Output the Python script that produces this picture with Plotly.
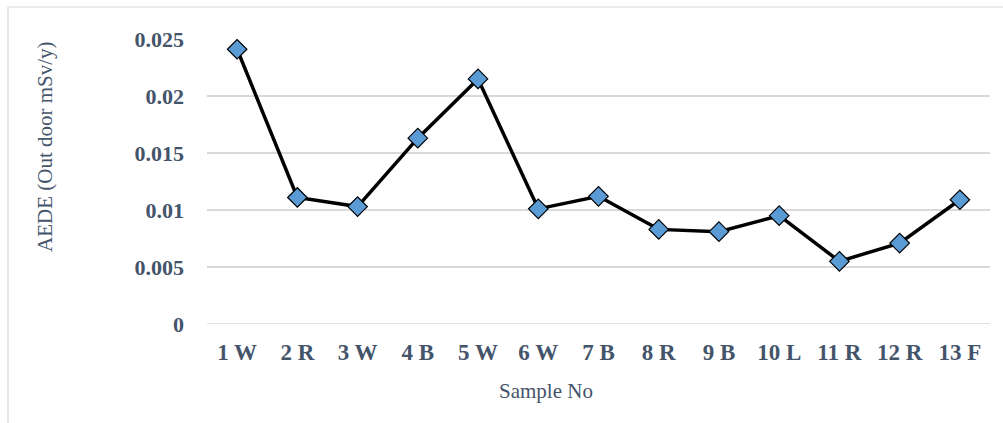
import plotly.graph_objects as go

# Sample identifiers and outdoor annual effective dose equivalent (mSv/y)
samples = ["1 W", "2 R", "3 W", "4 B", "5 W", "6 W", "7 B",
           "8 R", "9 B", "10 L", "11 R", "12 R", "13 F"]
aede_outdoor = [0.0241, 0.0111, 0.0103, 0.0163, 0.0215, 0.0101, 0.0112,
                0.0083, 0.0081, 0.0095, 0.0055, 0.0071, 0.0109]
y_ticks = [0, 0.005, 0.01, 0.015, 0.02, 0.025]
y_tick_text = ["0", "0.005", "0.01", "0.015", "0.02", "0.025"]

W, H = 1003, 423
ML, MR, MT, MB = 207, 13, 39, 99
pw, ph = W - ML - MR, H - MT - MB

def px_x(p):
    return (p - ML) / pw

def px_y(p):
    return (H - MB - p) / ph

label_color = "#44546A"

fig = go.Figure()
fig.add_trace(go.Scatter(
    x=samples, y=aede_outdoor, mode="lines+markers",
    line=dict(color="black", width=3.5),
    marker=dict(symbol="diamond", size=15, color="#5B9BD5",
                line=dict(color="black", width=1.2)),
    showlegend=False,
))

fig.update_layout(
    width=W, height=H,
    margin=dict(l=ML, r=MR, t=MT, b=MB),
    paper_bgcolor="white", plot_bgcolor="white",
    font=dict(family="Liberation Serif, Times New Roman, serif", color=label_color),
    xaxis=dict(
        type="category", range=[-0.5, 12.5], showgrid=False, zeroline=False,
        showline=False, ticks="",
        tickfont=dict(size=23, color=label_color, weight="bold"),
        ticklabelstandoff=12,
    ),
    yaxis=dict(
        range=[0, 0.025], tickvals=y_ticks, ticktext=y_tick_text,
        showgrid=True, gridcolor="#D9D9D9", gridwidth=1.5,
        zeroline=False, showline=False, ticks="",
        tickfont=dict(size=22, color=label_color, weight="bold"),
        ticklabelstandoff=22,
    ),
    shapes=[
        # baseline at zero
        dict(type="line", xref="paper", yref="y", x0=0, x1=1, y0=0, y1=0,
             line=dict(color="#D9D9D9", width=1.5), layer="below"),
        # chart frame
        dict(type="rect", xref="paper", yref="paper",
             x0=px_x(8), x1=px_x(1015), y0=px_y(440), y1=px_y(7),
             line=dict(color="#D9D9D9", width=1.2), fillcolor="rgba(0,0,0,0)",
             layer="below"),
    ],
    annotations=[
        dict(text="Sample No", xref="paper", yref="paper",
             x=px_x(546), y=px_y(405), showarrow=False,
             font=dict(size=21, color=label_color)),
        dict(text="AEDE (Out door mSv/y)", xref="paper", yref="paper",
             x=px_x(31), y=px_y(147), showarrow=False, textangle=-90,
             font=dict(size=21, color=label_color)),
    ],
)

fig.write_html("out.html")
